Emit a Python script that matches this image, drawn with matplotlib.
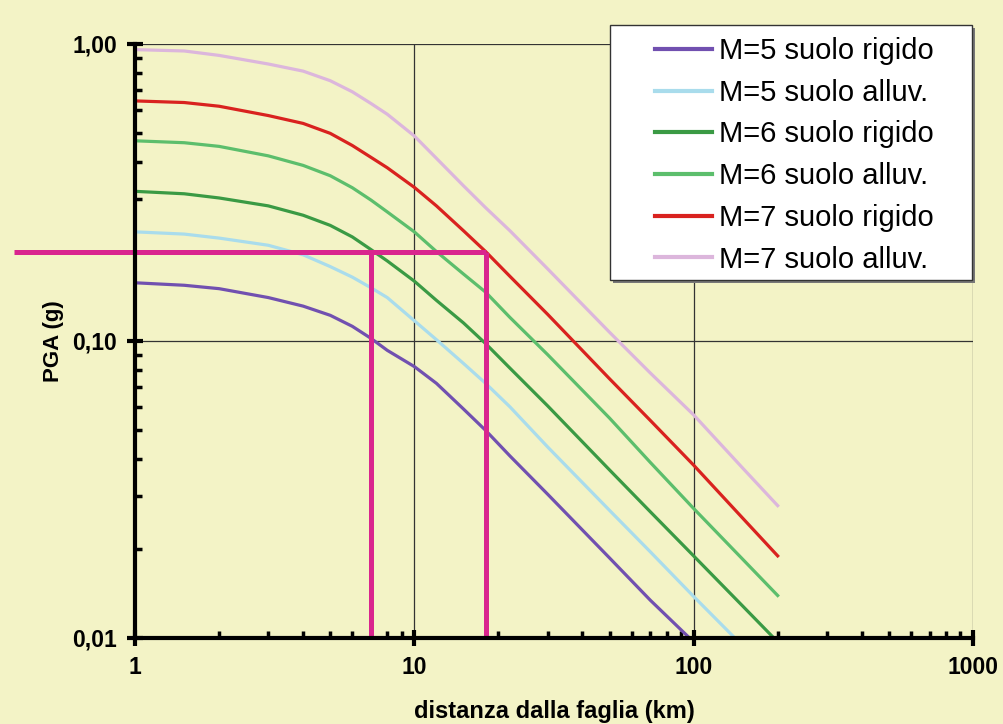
import numpy as np
import matplotlib
matplotlib.use('Agg')
import matplotlib.pyplot as plt
from matplotlib.patches import Rectangle
from matplotlib.ticker import FixedLocator, FixedFormatter, LogLocator, NullFormatter

plt.rcParams['font.family'] = ['Liberation Sans', 'DejaVu Sans']

# distances (km) and PGA (g)
dist = [1, 1.5, 2, 3, 4, 5, 6, 7, 8, 10, 12, 15, 18, 22, 30, 50, 70, 100, 150, 200]
nan = np.nan
pga_m5_rigid = [0.157, 0.154, 0.150, 0.140, 0.131, 0.122, 0.112, 0.102, 0.093, 0.082,
                0.072, 0.059, 0.050, 0.041, 0.0305, 0.0186, 0.0134, 0.0097, nan, nan]
pga_m5_alluv = [0.233, 0.229, 0.222, 0.210, 0.195, 0.178, 0.164, 0.151, 0.140, 0.117,
                0.101, 0.084, 0.072, 0.060, 0.044, 0.0269, 0.0195, 0.0138, 0.0094, nan]
pga_m6_rigid = [0.319, 0.313, 0.303, 0.285, 0.265, 0.245, 0.224, 0.203, 0.186, 0.159,
                0.137, 0.115, 0.098, 0.081, 0.0605, 0.0368, 0.0266, 0.0189, 0.0128, 0.0097]
pga_m6_alluv = [0.472, 0.465, 0.452, 0.420, 0.390, 0.360, 0.328, 0.298, 0.272, 0.233,
                0.200, 0.168, 0.146, 0.120, 0.090, 0.055, 0.039, 0.0273, 0.0184, 0.0139]
pga_m7_rigid = [0.643, 0.635, 0.617, 0.574, 0.540, 0.500, 0.455, 0.415, 0.383, 0.329,
                0.285, 0.235, 0.200, 0.165, 0.123, 0.0746, 0.054, 0.0382, 0.0253, 0.0189]
pga_m7_alluv = [0.957, 0.947, 0.915, 0.856, 0.810, 0.752, 0.690, 0.630, 0.580, 0.490,
                0.412, 0.333, 0.281, 0.235, 0.175, 0.107, 0.078, 0.0564, 0.0373, 0.0279]

labels = ['M=5 suolo rigido', 'M=5 suolo alluv.', 'M=6 suolo rigido',
          'M=6 suolo alluv.', 'M=7 suolo rigido', 'M=7 suolo alluv.']
colors = ['#7150b0', '#a9dcec', '#3a9a44', '#5cbe6c', '#d9221f', '#dcb6dc']

# reference reading: PGA 0.2 g at 7 km and 18 km
ref_pga = 0.2
ref_dist = [7, 18]
ref_start = 0.37

xticks = [1, 10, 100, 1000]
xticklabels = ['1', '10', '100', '1000']
yticks = [0.01, 0.1, 1]
yticklabels = ['0,01', '0,10', '1,00']

bg = '#f3f3c6'
W, H = 1004, 724
fig = plt.figure(figsize=(W / 100, H / 100), dpi=100, facecolor=bg)
ax = fig.add_axes([0.1345, 0.1188, 0.8345, 0.8205])
ax.set_facecolor(bg)
ax.set_xscale('log')
ax.set_yscale('log')
ax.set_xlim(1, 1000)
ax.set_ylim(0.01, 1)

series = [pga_m5_rigid, pga_m5_alluv, pga_m6_rigid, pga_m6_alluv, pga_m7_rigid, pga_m7_alluv]
for vals, lab, col in zip(series, labels, colors):
    ax.plot(dist, vals, color=col, lw=2.3, label=lab, zorder=3)

# magenta reference lines
mag = '#d9258e'
ax.plot([ref_start, ref_dist[1]], [ref_pga, ref_pga], color=mag, lw=3.6,
        clip_on=False, zorder=4, solid_capstyle='butt')
for d in ref_dist:
    ax.plot([d, d], [0.01, ref_pga], color=mag, lw=3.6, zorder=4, solid_capstyle='butt')

ax.grid(True, which='major', color='#333333', lw=0.9, zorder=1)
ax.set_axisbelow(True)

for s in ['top', 'right']:
    ax.spines[s].set_visible(False)
for s in ['left', 'bottom']:
    ax.spines[s].set_linewidth(3)
    ax.spines[s].set_zorder(5)

ax.xaxis.set_major_locator(FixedLocator(xticks))
ax.xaxis.set_major_formatter(FixedFormatter(xticklabels))
ax.yaxis.set_major_locator(FixedLocator(yticks))
ax.yaxis.set_major_formatter(FixedFormatter(yticklabels))
ax.xaxis.set_minor_locator(LogLocator(base=10, subs=np.arange(2, 10)))
ax.yaxis.set_minor_locator(LogLocator(base=10, subs=np.arange(2, 10)))
ax.xaxis.set_minor_formatter(NullFormatter())
ax.yaxis.set_minor_formatter(NullFormatter())
ax.tick_params(which='major', direction='inout', length=12, width=3, labelsize=16.5, pad=7)
ax.tick_params(which='minor', direction='in', length=5, width=2.5)
for t in ax.get_xticklabels() + ax.get_yticklabels():
    t.set_fontweight('bold')

ax.set_xlabel('distanza dalla faglia (km)', fontsize=17, fontweight='bold', labelpad=15)
ax.set_ylabel('PGA (g)', fontsize=16, fontweight='bold', labelpad=6)

# legend box (drawn separately so the padding can match the original)
bx0, by0, bw, bh = 610 / W, 1 - 280 / H, 362 / W, 255 / H
shadow = Rectangle((bx0 + 3 / W, by0 - 3 / H), bw, bh, transform=fig.transFigure,
                   facecolor='#777777', edgecolor='none', zorder=6)
box = Rectangle((bx0, by0), bw, bh, transform=fig.transFigure,
                facecolor='white', edgecolor='#333333', lw=1.0, zorder=7)
fig.add_artist(shadow)
fig.add_artist(box)

handles, labs = ax.get_legend_handles_labels()
leg = fig.legend(handles, labs, loc='upper left', bbox_to_anchor=(655 / W, 1 - 37 / H),
                 bbox_transform=fig.transFigure, borderaxespad=0, borderpad=0,
                 fontsize=21, handlelength=1.95, handletextpad=0.25,
                 labelspacing=0.47, frameon=False)
leg.set_zorder(8)
for line in leg.get_lines():
    line.set_linewidth(3)

fig.savefig('out.png', dpi=100, facecolor=bg)
